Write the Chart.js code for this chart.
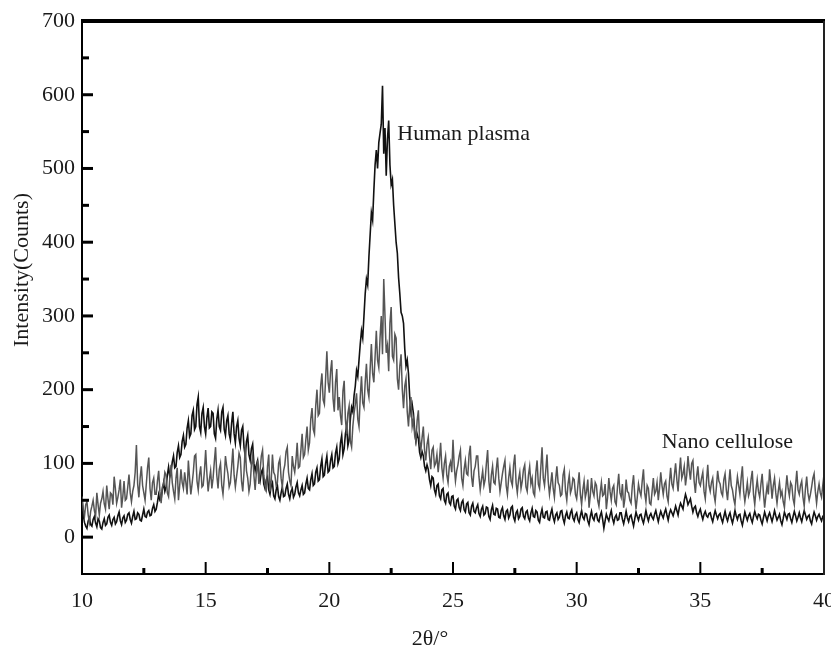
<!DOCTYPE html>
<html><head><meta charset="utf-8">
<script src="https://cdn.jsdelivr.net/npm/chart.js@4.4.0/dist/chart.umd.min.js"></script>
<style>html,body{margin:0;padding:0;background:#fff}#wrap{width:831px;height:650px;position:relative}</style>
</head><body><div id="wrap"><canvas id="c" width="831" height="650"></canvas></div>
<script>
// 2θ grid: 10.00 .. 40.00 in steps of 0.05 degree (one row = one degree)
const xStart = 10, xStep = 0.05;

const humanPlasma = [
 52,30,20,15,12,22,26,17,15,24,28,19,14,25,22,13,11,20,25,16,
 18,27,30,20,16,24,27,18,21,29,34,22,17,26,29,20,23,31,33,24,
 19,28,35,24,25,33,31,23,22,30,38,28,27,34,36,29,30,39,44,35,
 38,47,58,50,52,65,74,62,68,84,95,82,88,102,110,94,96,115,124,108,
 112,130,138,122,126,148,158,136,140,165,172,146,150,180,190,150,142,168,176,150,
 140,162,175,148,150,170,168,140,134,160,172,150,145,170,176,146,138,158,165,140,
 132,155,170,140,128,150,158,134,124,145,150,122,110,130,138,112,104,120,126,100,
 90,98,104,84,76,88,92,72,66,78,82,64,58,70,74,56,52,64,70,55,
 50,60,68,55,56,66,72,58,52,62,66,54,58,68,74,60,56,64,70,58,
 60,72,80,66,64,78,86,70,72,88,94,76,78,96,106,82,84,100,110,88,
 90,104,112,94,96,114,122,100,106,128,138,112,120,140,150,124,132,160,176,170,
 192,205,226,218,240,262,280,270,300,330,350,342,380,410,440,430,470,505,525,500,
 535,548,560,612,520,555,490,540,565,505,478,485,450,425,400,385,352,330,305,300,
 290,255,232,240,222,190,170,180,168,145,130,140,134,115,108,116,110,96,90,98,
 92,78,70,82,80,64,58,70,72,56,52,64,66,50,46,58,60,47,44,55,
 56,42,38,50,52,40,36,47,50,37,34,45,47,33,30,42,46,35,33,40,
 44,32,28,38,42,30,32,41,40,28,24,37,43,31,30,39,38,27,26,36,
 40,29,24,35,37,26,30,40,42,27,22,33,36,25,28,38,40,28,25,34,
 36,26,22,33,39,28,27,36,34,23,20,31,38,27,26,34,35,24,23,32,
 38,27,21,30,33,24,27,35,36,25,19,29,34,26,25,33,37,26,22,30,
 33,24,20,29,36,27,24,32,31,22,17,28,35,26,23,31,32,23,21,29,
 34,24,12,22,31,26,22,30,36,25,19,27,30,23,24,33,33,24,18,26,
 35,26,21,28,30,22,15,25,34,28,23,30,31,24,19,27,36,28,22,29,
 32,27,24,31,36,28,21,29,35,30,26,33,38,30,23,32,37,33,29,35,
 42,36,30,40,46,42,38,50,58,52,44,48,52,42,34,40,42,33,28,34,
 38,30,24,31,35,29,27,32,33,26,21,29,36,30,25,30,32,25,20,28,
 35,27,22,29,33,25,19,27,36,29,24,30,31,22,16,25,34,28,23,29,
 32,25,20,28,35,29,25,31,30,23,18,26,34,28,22,29,33,27,21,28,
 36,29,23,27,31,22,17,25,34,29,24,31,32,25,20,28,35,29,22,27,
 33,26,21,29,36,30,24,28,30,22,18,27,34,29,23,28,31,26,22,28,
 30
];

const nanoCellulose = [
 55,38,28,44,48,30,20,35,42,50,36,28,60,44,30,46,52,62,45,38,
 70,52,38,60,58,44,82,66,46,54,64,78,40,55,76,50,52,68,85,60,
 48,62,70,88,125,72,54,80,96,70,60,50,72,94,108,66,50,74,80,58,
 58,76,90,62,46,68,72,88,84,60,55,80,98,74,62,52,80,94,50,70,
 92,74,66,88,74,58,104,80,58,72,88,110,112,76,64,84,96,68,70,90,
 118,86,62,78,90,66,80,102,122,84,66,92,100,70,58,80,110,96,86,68,
 74,96,120,84,68,82,96,114,108,76,62,88,124,90,80,62,72,98,110,84,
 64,88,104,72,90,110,118,84,70,64,96,112,62,76,112,88,84,70,74,100,
 106,80,68,90,98,116,122,88,76,70,110,96,88,104,128,94,96,118,140,108,
 112,132,150,118,128,160,175,146,140,178,200,165,168,205,222,186,180,215,252,210,
 196,225,240,188,170,210,228,172,190,165,152,198,212,160,140,168,178,130,122,150,
 168,180,195,160,150,190,218,182,176,210,235,200,190,228,262,222,210,245,280,240,
 230,270,300,248,350,300,250,260,225,290,312,245,240,275,270,215,200,232,248,200,
 175,205,215,170,150,178,190,150,160,138,130,158,172,132,118,135,150,118,104,126,
 135,110,92,118,122,96,100,112,88,105,128,94,80,100,110,84,74,96,102,88,
 132,96,76,90,98,110,118,80,70,92,104,86,84,112,124,82,68,90,96,110,
 110,82,64,78,90,70,78,100,118,76,60,84,96,74,72,92,108,80,62,74,
 86,96,104,70,58,80,94,76,70,98,112,74,60,78,88,66,76,92,98,68,
 62,84,96,72,80,60,56,88,104,72,66,94,122,80,70,90,112,76,58,72,
 88,66,54,78,96,74,70,56,58,84,92,62,50,72,84,60,66,80,78,58,
 52,70,88,58,44,64,76,54,62,78,40,56,80,62,56,74,70,50,42,60,
 74,56,58,72,38,54,80,62,50,66,70,48,44,68,86,60,54,72,40,52,
 78,62,60,50,46,70,84,56,38,54,72,62,56,76,92,60,48,70,66,46,
 44,62,80,58,62,74,50,66,88,70,58,72,76,56,48,74,94,72,66,84,
 100,78,62,88,108,80,86,96,70,84,110,92,78,100,104,76,60,82,96,74,
 70,80,88,62,52,76,98,70,62,74,80,58,48,68,90,76,72,60,56,78,
 86,64,50,72,92,70,64,52,44,66,82,70,58,80,96,62,48,60,74,56,
 62,78,90,58,44,64,78,62,54,72,86,60,40,56,70,58,92,74,52,70,
 80,60,46,62,74,56,62,48,40,64,84,66,56,74,70,52,44,70,90,64,
 58,70,76,54,42,66,82,60,50,58,68,80,86,62,46,62,72,60,54,70,
 85
];

const xTicks = [10,15,20,25,30,35,40];
const xMinorTicks = [12.5,17.5,22.5,27.5,32.5,37.5];
const yTicks = [0,100,200,300,400,500,600,700];
const yMinorTicks = [50,150,250,350,450,550,650];
const seriesLabels = [
  {text:'Human plasma', x:22.75, y:539},
  {text:'Nano cellulose', x:33.44, y:121}
];
const xTitle = '2θ/°';
const yTitle = 'Intensity(Counts)';

const toPoints = arr => arr.map((v,i)=>({x:+(xStart+i*xStep).toFixed(2), y:v}));
const FONT = '"Liberation Serif", "Times New Roman", serif';

const frame = {
  id:'frame',
  afterDraw(chart){
    const {ctx, chartArea:a, scales:{x,y}} = chart;
    ctx.save();
    ctx.strokeStyle = '#000';
    ctx.lineWidth = 4;
    ctx.beginPath(); ctx.moveTo(a.left-1, a.top); ctx.lineTo(a.right+1, a.top); ctx.stroke();
    ctx.strokeStyle = '#222';
    ctx.lineWidth = 2;
    ctx.beginPath(); ctx.moveTo(a.right, a.top); ctx.lineTo(a.right, a.bottom+1); ctx.stroke();
    ctx.strokeStyle = '#000';
    const seg=(x1,y1,x2,y2)=>{ctx.beginPath();ctx.moveTo(x1,y1);ctx.lineTo(x2,y2);ctx.stroke();};
    ctx.lineWidth = 3;
    yTicks.forEach(v=>{const p=y.getPixelForValue(v); seg(a.left, p, a.left+11, p);});
    yMinorTicks.forEach(v=>{const p=y.getPixelForValue(v); seg(a.left, p, a.left+7, p);});
    ctx.lineWidth = 2;
    xTicks.forEach(v=>{ if(v===x.min||v===x.max) return; const p=x.getPixelForValue(v); seg(p, a.bottom, p, a.bottom-12);});
    ctx.lineWidth = 3;
    xMinorTicks.forEach(v=>{const p=x.getPixelForValue(v); seg(p, a.bottom, p, a.bottom-6);});
    ctx.fillStyle = '#1a1a1a';
    ctx.font = '22px ' + FONT;
    ctx.textAlign = 'left'; ctx.textBaseline = 'alphabetic';
    seriesLabels.forEach(l=>ctx.fillText(l.text, x.getPixelForValue(l.x), y.getPixelForValue(l.y)));
    ctx.textAlign = 'center'; ctx.textBaseline = 'middle';
    ctx.fillText(xTitle, 430, 639);
    ctx.translate(22, 270); ctx.rotate(-Math.PI/2);
    ctx.fillText(yTitle, 0, 0);
    ctx.restore();
  }
};

new Chart(document.getElementById('c'), {
  type:'line',
  data:{datasets:[
    {label:'Nano cellulose', data:toPoints(nanoCellulose), borderColor:'#555555', borderWidth:1.5, pointRadius:0, tension:0, order:0},
    {label:'Human plasma', data:toPoints(humanPlasma), borderColor:'#111', borderWidth:1.6, pointRadius:0, tension:0, order:1}
  ]},
  options:{
    responsive:false, animation:false, devicePixelRatio:1,
    layout:{padding:{top:21,right:7,left:0,bottom:0}},
    plugins:{legend:{display:false}, tooltip:{enabled:false}},
    scales:{
      x:{type:'linear', min:10, max:40,
        afterBuildTicks:s=>{s.ticks = xTicks.map(v=>({value:v}));},
        afterFit:s=>{s.height=76; s.paddingLeft=0; s.paddingRight=0;},
        grid:{display:false, drawTicks:false},
        border:{display:true, color:'#000', width:2},
        ticks:{font:{family:FONT, size:22}, color:'#1a1a1a', padding:14, maxRotation:0, autoSkip:false}
      },
      y:{type:'linear', min:-50, max:700,
        afterBuildTicks:s=>{s.ticks = yTicks.map(v=>({value:v}));},
        afterFit:s=>{s.width=82; s.paddingTop=0; s.paddingBottom=0;},
        grid:{display:false, drawTicks:false},
        border:{display:true, color:'#000', width:2},
        ticks:{font:{family:FONT, size:22}, color:'#1a1a1a', padding:7}
      }
    }
  },
  plugins:[frame]
});
</script></body></html>
